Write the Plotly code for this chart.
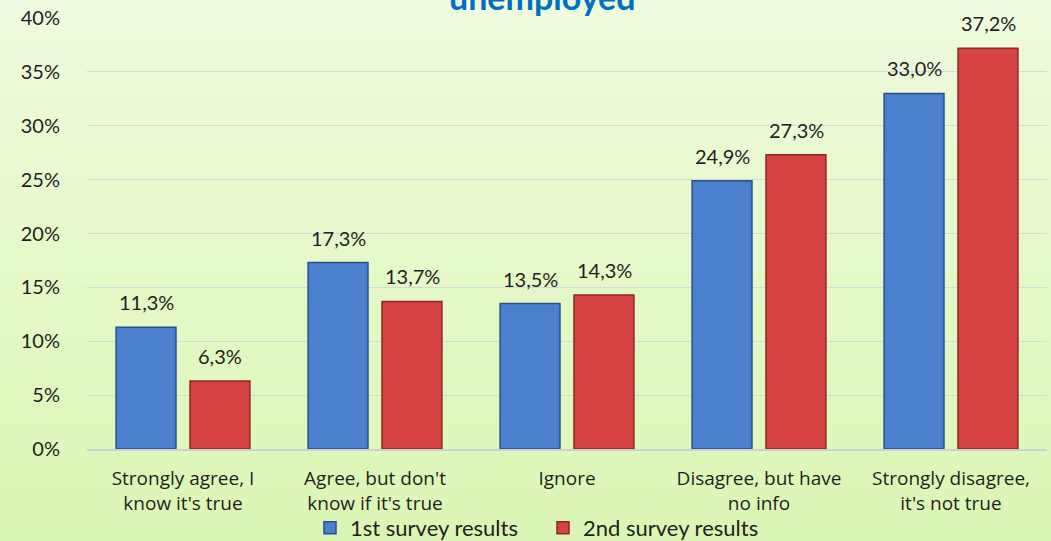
import plotly.graph_objects as go

categories = ["Strongly agree, I<br>know it's true", "Agree, but don't<br>know if it's true", "Ignore",
              "Disagree, but have<br>no info", "Strongly disagree,<br>it's not true"]
survey1 = [11.3, 17.3, 13.5, 24.9, 33.0]
survey2 = [6.3, 13.7, 14.3, 27.3, 37.2]
series_names = ["1st survey results", "2nd survey results"]
y_ticks = [0, 5, 10, 15, 20, 25, 30, 35, 40]
title_text = "unemployed"

FONT = "Lato"
TXT = "#1F1F1F"
W, H = 1051, 541
ML, MR, MT, MB = 87, 4, 18, 92
PW, PH = W - ML - MR, H - MT - MB

fig = go.Figure()
colors = [("#4A80CD", "#2A4F8A"), ("#D74242", "#8E2626")]
for name, vals, (fc, lc) in zip(series_names, [survey1, survey2], colors):
    fig.add_trace(go.Bar(
        x=categories, y=vals, name=name,
        marker=dict(color=fc, line=dict(color=lc, width=1.5)),
        hoverinfo="skip",
    ))

# data labels (comma decimal) above bars
for vals, xs in [(survey1, -37), (survey2, 37)]:
    for c, v in zip(categories, vals):
        fig.add_annotation(x=c, y=v, xref="x", yref="y", text=f"{v:.1f}%".replace(".", ","),
                           showarrow=False, xshift=xs, yshift=25,
                           font=dict(family=FONT, size=20, color=TXT))

# background gradient stripes
n = 40
y0p, y1p = -MB / PH, 1 + MT / PH
top = (239, 251, 222)
bot = (219, 246, 180)
for i in range(n):
    t = i / (n - 1)
    col = tuple(round(bot[k] + (top[k] - bot[k]) * t) for k in range(3))
    ya = y0p + (y1p - y0p) * i / n
    yb = y0p + (y1p - y0p) * (i + 1) / n
    fig.add_shape(type="rect", xref="paper", yref="paper", x0=-ML / PW - 0.01, x1=1 + MR / PW + 0.01,
                  y0=ya - 0.01 * (i == 0), y1=yb + 0.002, fillcolor="rgb(%d,%d,%d)" % col,
                  line=dict(width=0), layer="below")

fig.add_annotation(text=f"<b>{title_text}</b>", xref="paper", yref="paper",
                   x=(542 - ML) / PW, y=1 + (MT + 4) / PH, showarrow=False, yanchor="middle",
                   font=dict(family=FONT, size=34, color="#0070C0"))

fig.update_layout(
    width=W, height=H,
    margin=dict(l=ML, r=MR, t=MT, b=MB, pad=0, autoexpand=False),
    paper_bgcolor="#DCF6B6", plot_bgcolor="rgba(0,0,0,0)",
    barmode="group", bargap=0.23, bargroupgap=0.19,
    font=dict(family=FONT, size=21, color=TXT),
    showlegend=True,
    legend=dict(orientation="h", x=(543 - ML) / PW, xanchor="center", y=(449 - 528) / PH, yanchor="middle",
                font=dict(family=FONT, size=22, color=TXT), bgcolor="rgba(0,0,0,0)",
                traceorder="normal", itemwidth=30, entrywidth=188),
    xaxis=dict(showgrid=False, showline=True, linecolor="#CFCFCF", linewidth=2,
               tickfont=dict(family="Open Sans", size=19, color=TXT),
               ticks="outside", ticklen=11, tickcolor="rgba(0,0,0,0)", automargin=False),
    yaxis=dict(range=[0, 40], tickvals=y_ticks, ticktext=[f"{v}%" for v in y_ticks],
               showgrid=True, gridcolor="#D8D8D8", gridwidth=1, zeroline=False,
               ticks="outside", ticklen=22, tickcolor="rgba(0,0,0,0)",
               tickfont=dict(family=FONT, size=20, color=TXT), automargin=False),
)

fig.write_html("out.html", config={"displayModeBar": False},
               post_script="document.body.style.margin='0';document.body.style.overflow='hidden';")
